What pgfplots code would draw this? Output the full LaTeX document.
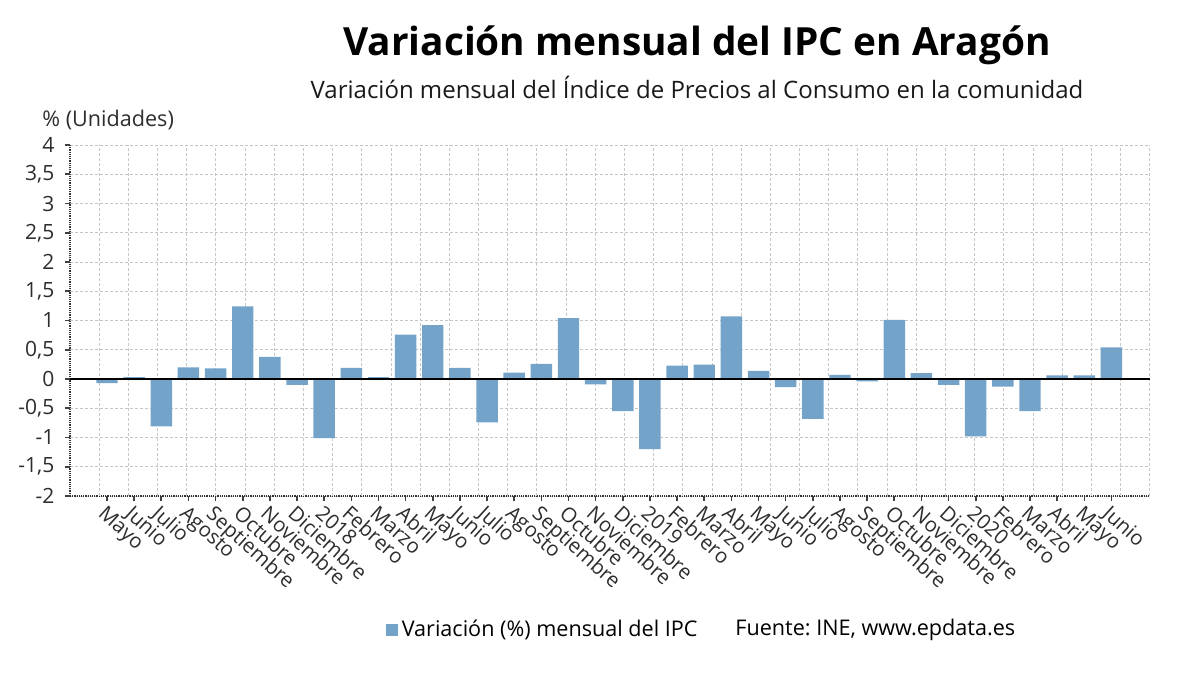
\documentclass[border=0pt]{standalone}
\usepackage{fontspec}
\setmainfont{Open Sans}
\usepackage{pgfplots}
\pgfplotsset{compat=1.18}
\definecolor{barblue}{RGB}{116,163,201}
\definecolor{txt}{RGB}{45,45,45}
\frenchspacing
\begin{document}
\begin{tikzpicture}
\path[use as bounding box] (0pt,0pt) rectangle (600pt,337.5pt);
\begin{axis}[
  at={(35pt,89.5pt)}, anchor=south west,
  scale only axis, width=540pt, height=175.5pt,
  xmin=-1.363, xmax=38.42, ymin=-2, ymax=4,
  axis x line*=bottom, axis y line*=left,
  axis line style={-, black!80, line width=1.1pt, dash pattern=on 0.6pt off 0.5pt},
  ytick={-2,-1.5,...,4},
  xtick={0,...,37},
  xticklabels={Mayo,Junio,Julio,Agosto,Septiembre,Octubre,Noviembre,Diciembre,2018,Febrero,Marzo,Abril,Mayo,Junio,Julio,Agosto,Septiembre,Octubre,Noviembre,Diciembre,2019,Febrero,Marzo,Abril,Mayo,Junio,Julio,Agosto,Septiembre,Octubre,Noviembre,Diciembre,2020,Febrero,Marzo,Abril,Mayo,Junio},
  xticklabel style={rotate=-42, anchor=north west, font=\fontsize{10.2}{12}\selectfont, text=txt, inner sep=1pt},
  yticklabel style={font=\fontsize{10.5}{12}\selectfont, text=txt, xshift=-1.8pt, /pgf/number format/use comma, /pgf/number format/assume math mode=true},
  tick align=outside, major tick length=2.5pt,
  tick style={black!75, line width=0.8pt, solid},
  ymajorgrids=true,
  grid style={gray!45, line width=0.5pt, dash pattern=on 1.5pt off 1pt},
  extra x ticks={-0.288,0.787,...,38.5},
  extra x tick labels={},
  extra x tick style={grid=major, major tick length=0pt},
  legend style={at={(0.292,-0.382)}, anchor=west, draw=none, fill=none, inner sep=0pt,
    font=\fontsize{10.8}{13}\selectfont, text=black},
  legend image code/.code={\fill[barblue] (0pt,-3pt) rectangle (6pt,3pt);},
]
\addplot[ybar, fill=barblue, draw=none, bar width=0.79] coordinates {
(0,-0.07) (1,0.03) (2,-0.81) (3,0.20) (4,0.18) (5,1.24) (6,0.38) (7,-0.10)
(8,-1.01) (9,0.19) (10,0.03) (11,0.76) (12,0.92) (13,0.19) (14,-0.74) (15,0.11)
(16,0.26) (17,1.04) (18,-0.09) (19,-0.55) (20,-1.20) (21,0.23) (22,0.245) (23,1.07)
(24,0.14) (25,-0.14) (26,-0.68) (27,0.07) (28,-0.04) (29,1.01) (30,0.10) (31,-0.10)
(32,-0.98) (33,-0.13) (34,-0.55) (35,0.06) (36,0.06) (37,0.54)
};
\addlegendentry{Variación (\%) mensual del IPC}
\draw[black, line width=1.1pt] (axis cs:-1.363,0) -- (axis cs:38.42,0);
\end{axis}
\node[anchor=center, font=\fontsize{19.4}{23}\bfseries\selectfont] at (348.5pt,315pt) {Variación mensual del IPC en Aragón};
\node[anchor=center, font=\fontsize{12}{14}\selectfont, text=black!90] at (348.5pt,294pt) {Variación mensual del Índice de Precios al Consumo en la comunidad};
\node[anchor=west, font=\fontsize{10.8}{13}\selectfont, text=txt, inner sep=0pt] at (21pt,277.5pt) {\% (Unidades)};
\node[anchor=west, font=\fontsize{10.8}{13}\selectfont, inner sep=0pt] at (367.5pt,22.5pt) {Fuente: INE, www.epdata.es};
\end{tikzpicture}
\end{document}
